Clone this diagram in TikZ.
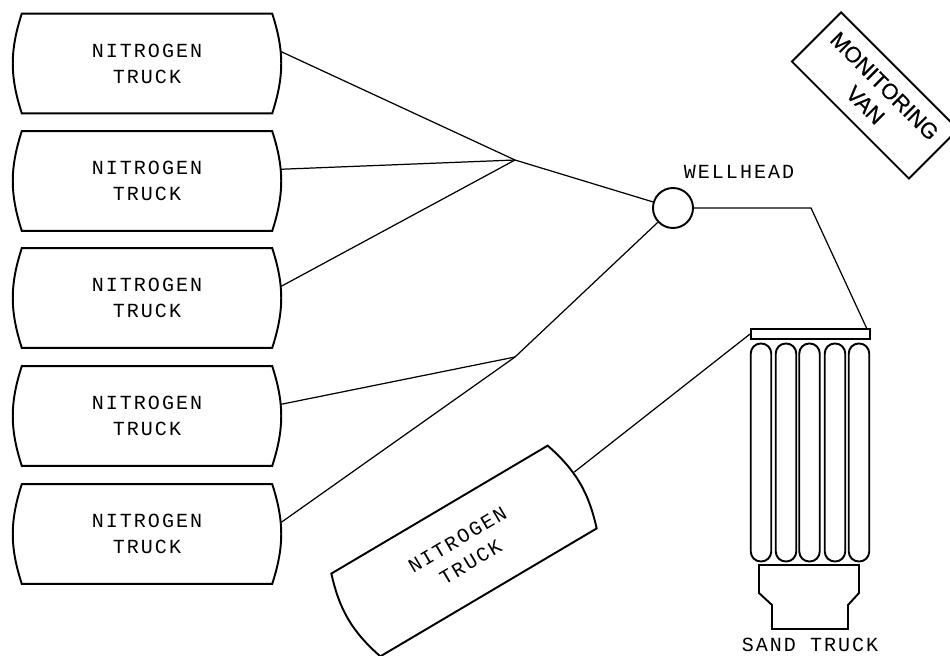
\documentclass[tikz,border=0pt]{standalone}
\usepackage{fontspec}
\newfontfamily\plotfont[LetterSpace=10]{Liberation Mono}
\newfontfamily\vanfont[FakeBold=0.6]{Liberation Sans}
\usetikzlibrary{positioning,calc}

\begin{document}
\begin{tikzpicture}[
  lbl/.style={font=\plotfont\fontsize{11.4pt}{14.8pt}\selectfont,align=center,inner sep=0pt},
  heavy/.style={line width=1.1pt},
  truck/.style={lbl,minimum width=5.36cm,minimum height=1.98cm,
    append after command={\pgfextra{\draw[heavy]
      ($(\tikzlastnode.north west)!0.034!(\tikzlastnode.north east)$) --
      ($(\tikzlastnode.north east)!0.034!(\tikzlastnode.north west)$) to[bend left=18]
      ($(\tikzlastnode.south east)!0.034!(\tikzlastnode.south west)$) --
      ($(\tikzlastnode.south west)!0.034!(\tikzlastnode.south east)$) to[bend left=18]
      cycle;}}},
  tube/.style={draw,heavy,rounded corners=0.2cm,minimum width=0.41cm,minimum height=4.36cm,inner sep=0pt},
  pipe/.style={line width=0.7pt}]
\useasboundingbox (0,0) rectangle (19,13.1);
\node[truck] (t1) at (2.94,11.83) {NITROGEN\\TRUCK};
\node[truck] (t2) at (2.94,9.48) {NITROGEN\\TRUCK};
\node[truck] (t3) at (2.94,7.14) {NITROGEN\\TRUCK};
\node[truck] (t4) at (2.94,4.78) {NITROGEN\\TRUCK};
\node[truck] (t5) at (2.94,2.42) {NITROGEN\\TRUCK};
\node[truck,minimum width=5.38cm,minimum height=1.91cm,rotate=30.6] (t6) at (9.28,2.08) {NITROGEN\\TRUCK};
\node[draw,heavy,rotate=-45,minimum width=3.31cm,minimum height=1.39cm,align=center,inner sep=0pt,
  font=\vanfont\fontsize{12.5pt}{15.4pt}\selectfont] (van) at (17.5,11.19) {MONITORING\\VAN};
\node[draw,heavy,circle,minimum size=0.8cm,inner sep=0pt] (well) at (13.46,8.94) {};
\node[lbl] (welllbl) at (14.78,9.66) {WELLHEAD};
\node[draw,heavy,minimum width=2.38cm,minimum height=0.2cm,inner sep=0pt] (bar) at (16.21,6.42) {};
\node[tube] (s1) at (15.22,4.05) {};
\node[tube] (s2) at (15.72,4.05) {};
\node[tube] (s3) at (16.19,4.05) {};
\node[tube] (s4) at (16.70,4.05) {};
\node[tube] (s5) at (17.18,4.05) {};
\draw[heavy] (15.18,1.8) -- (17.18,1.8) -- (17.18,1.24) -- (16.96,1.0) -- (16.96,0.52)
  -- (15.44,0.52) -- (15.44,1.0) -- (15.18,1.24) -- cycle;
\node[lbl] (sand) at (16.2,0.2) {SAND TRUCK};
\coordinate (j1) at (10.3,9.9);
\coordinate (j2) at (10.3,5.96);
\coordinate (kink) at (16.22,8.94);
\coordinate (barin) at (17.34,6.52);
\draw[pipe] (t1.5) -- (j1);
\draw[pipe] (t2.5) -- (j1);
\draw[pipe] (t3.5) -- (j1);
\draw[pipe] (j1) -- (well);
\draw[pipe] (t4.5) -- (j2);
\draw[pipe] (t5.5) -- (j2);
\draw[pipe] (j2) -- (well);
\draw[pipe] (well) -- (kink) -- (barin);
\draw[pipe] (t6.5) -- (bar.west);
\end{tikzpicture}
\end{document}
